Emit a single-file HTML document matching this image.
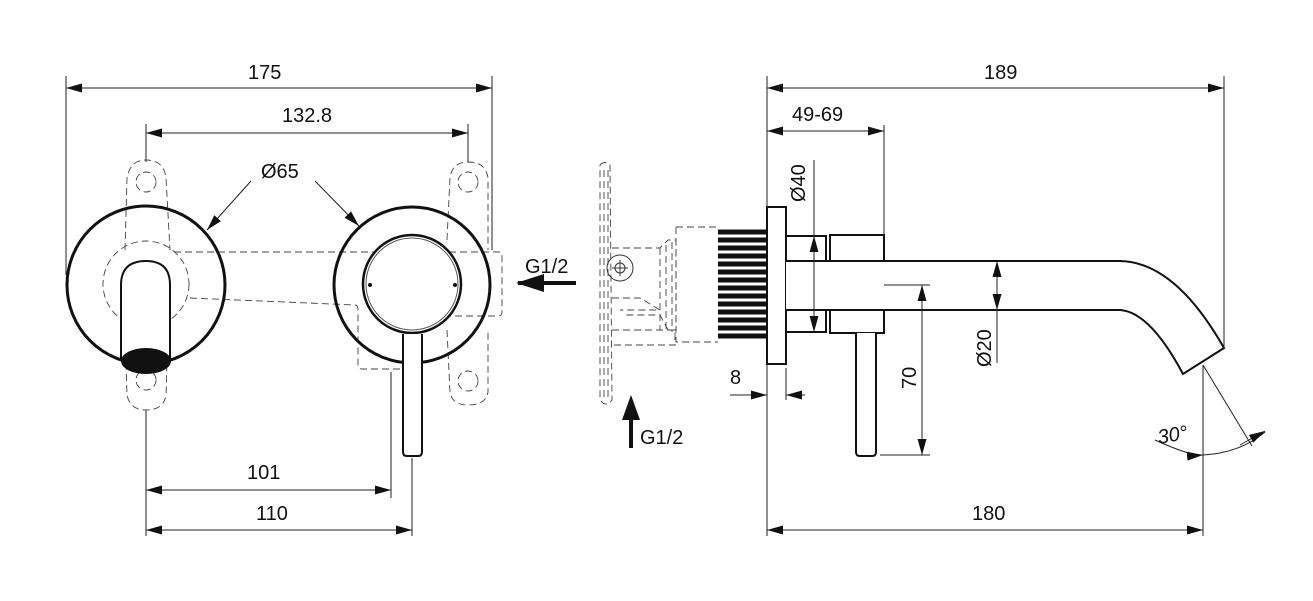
<!DOCTYPE html>
<html><head><meta charset="utf-8"><style>
html,body{margin:0;padding:0;background:#fff;}
svg{display:block;}
text{font-family:"Liberation Sans",sans-serif;font-size:20px;fill:#111;}
</style></head><body>
<svg width="1313" height="601" viewBox="0 0 1313 601" xmlns="http://www.w3.org/2000/svg">
<defs>
<marker id="a" viewBox="0 0 16 9" refX="16" refY="4.5" markerWidth="16" markerHeight="9" markerUnits="userSpaceOnUse" orient="auto-start-reverse"><path d="M0,0L16,4.5L0,9z" fill="#111"/></marker>
</defs>
<g stroke="#222" stroke-width="1" fill="none">
<line x1="66" y1="76" x2="66" y2="275"/>
<line x1="492" y1="76" x2="492" y2="250"/>
<line x1="66" y1="88" x2="492" y2="88" marker-start="url(#a)" marker-end="url(#a)"/>
<line x1="146" y1="124" x2="146" y2="162"/>
<line x1="468" y1="124" x2="468" y2="162"/>
<line x1="146" y1="133" x2="468" y2="133" marker-start="url(#a)" marker-end="url(#a)"/>
<line x1="251" y1="181" x2="207" y2="230" marker-end="url(#a)"/>
<line x1="315" y1="181" x2="359" y2="226" marker-end="url(#a)"/>
<line x1="146" y1="410" x2="146" y2="536"/>
<line x1="391" y1="372" x2="391" y2="498"/>
<line x1="412" y1="458" x2="412" y2="536"/>
<line x1="146" y1="490" x2="391" y2="490" marker-start="url(#a)" marker-end="url(#a)"/>
<line x1="146" y1="530" x2="412" y2="530" marker-start="url(#a)" marker-end="url(#a)"/>
</g>
<g stroke="#444" stroke-width="0.9" fill="none" stroke-dasharray="7,4">
<path d="M125,250 L127,178 Q130,160 146,160 Q164,160 166,178 L170,250"/>
<path d="M125,330 L127,395 Q130,410 146,410 Q164,410 166,395 L168,330"/>
<circle cx="146" cy="182" r="10"/><circle cx="146" cy="380" r="10"/>
<circle cx="146" cy="284" r="43"/>
<path d="M447,240 L450,178 Q452,162 468,162 Q486,162 488,178 L488,250"/>
<path d="M447,330 L450,392 Q452,405 468,405 Q486,405 488,392 L488,330"/>
<circle cx="468" cy="182" r="10"/><circle cx="468" cy="381" r="10"/>
<path d="M174,252 L500,252 Q502,252 502,258 L502,312 Q502,316 498,316 L440,316"/>
<path d="M190,298 L355,305 Q358,305 358,310 L358,365 Q358,369 362,369 L420,369"/>
<circle cx="412" cy="283" r="44"/>
<path d="M600,165 Q605,160 610,165 L612,400 Q606,408 600,400 Z"/>
<path d="M604,170 L604,398 M608,170 L608,398"/>
<path d="M612,248 L660,248 L668,240 L676,240 L676,330 L668,330 L660,315 L625,315"/>
<path d="M612,298 L640,298 L660,310 L620,310"/>
<path d="M612,330 L675,330 L675,345 L612,345"/>
<path d="M676,227 L718,227 M676,227 L676,342 L718,342"/>
<path d="M660,248 L660,330 M666,245 L666,330 M672,242 L672,332"/>
</g>
<circle cx="620" cy="268" r="13" stroke="#333" fill="none"/>
<circle cx="620" cy="268" r="5" stroke="#333" fill="none"/>
<path d="M620,260 V276 M612,268 H628" stroke="#333"/>
<g stroke="#111" stroke-width="3" fill="none">
<circle cx="146" cy="285" r="79"/>
<circle cx="412" cy="285" r="78"/>
</g>
<path d="M121,360 L121,285 Q121,261 146,261 Q170,261 170,285 L170,360" stroke="#111" stroke-width="2" fill="#fff"/>
<ellipse cx="146" cy="361" rx="25" ry="13" fill="#111"/>
<circle cx="412" cy="284" r="49" stroke="#111" stroke-width="2.5" fill="#fff"/>
<circle cx="412" cy="284" r="46" stroke="#555" stroke-width="1" fill="none"/>
<circle cx="370" cy="285" r="2" fill="#111"/><circle cx="455" cy="285" r="2" fill="#111"/>
<path d="M403,334 L403,452 Q403,456 407,456 L418,456 Q422,456 422,452 L422,334" stroke="#111" stroke-width="2" fill="#fff"/>
<line x1="576" y1="283" x2="518" y2="283" stroke="#111" stroke-width="4"/>
<path d="M516,283 L544,274 L544,292z" fill="#111"/>
<text x="525" y="273">G1/2</text>
<line x1="631" y1="448" x2="631" y2="400" stroke="#111" stroke-width="4"/>
<path d="M631,395 L622,420 L640,420z" fill="#111"/>
<text x="640" y="444">G1/2</text>
<g stroke="#111" stroke-width="5">
<path d="M718,232 H766 M718,240 H766 M718,248 H766 M718,256 H766 M718,264 H766 M718,272 H766 M718,280 H766 M718,288 H766 M718,296 H766 M718,304 H766 M718,312 H766 M718,320 H766 M718,328 H766 M718,336 H766"/>
</g>
<g stroke="#111" stroke-width="2" fill="#fff">
<rect x="767" y="207" width="19" height="157"/>
<rect x="786" y="236" width="40" height="96"/>
<rect x="830" y="235" width="54" height="98"/>
<path d="M786,261 L1120,261 Q1175,262 1224,348 L1183,374 Q1150,312 1120,310 L786,310"/>
<path d="M856,333 L856,452 Q856,456 860,456 L872,456 Q876,456 876,452 L876,333"/>
</g>
<g stroke="#222" stroke-width="1" fill="none">
<line x1="767" y1="76" x2="767" y2="207"/>
<line x1="767" y1="364" x2="767" y2="536"/>
<line x1="1224" y1="76" x2="1224" y2="348"/>
<line x1="767" y1="88" x2="1224" y2="88" marker-start="url(#a)" marker-end="url(#a)"/>
<line x1="884" y1="125" x2="884" y2="235"/>
<line x1="767" y1="131" x2="884" y2="131" marker-start="url(#a)" marker-end="url(#a)"/>
<line x1="814" y1="160" x2="814" y2="236"/>
<line x1="814" y1="236" x2="814" y2="332" marker-start="url(#a)" marker-end="url(#a)"/>
<line x1="786" y1="368" x2="786" y2="400"/>
<line x1="730" y1="395" x2="767" y2="395" marker-end="url(#a)"/>
<line x1="805" y1="395" x2="786" y2="395" marker-end="url(#a)"/>
<line x1="884" y1="285" x2="930" y2="285"/>
<line x1="880" y1="455" x2="930" y2="455"/>
<line x1="922" y1="285" x2="922" y2="455" marker-start="url(#a)" marker-end="url(#a)"/>
<line x1="997" y1="261" x2="997" y2="310" marker-start="url(#a)" marker-end="url(#a)"/>
<line x1="997" y1="310" x2="997" y2="363"/>
<line x1="1203" y1="365" x2="1203" y2="536"/>
<line x1="1203" y1="365" x2="1252" y2="446"/>
<path d="M1155,440 Q1190,456 1203,455" marker-end="url(#a)"/>
<path d="M1203,455 Q1240,453 1265,432"/>
<path d="M1240,445 L1265,431" marker-end="url(#a)"/>
<line x1="767" y1="530" x2="1203" y2="530" marker-start="url(#a)" marker-end="url(#a)"/>
</g>
<text x="248" y="79">175</text>
<text x="282" y="122">132.8</text>
<text x="261" y="178">Ø65</text>
<text x="247" y="479">101</text>
<text x="256" y="520">110</text>
<text x="984" y="79">189</text>
<text x="792" y="121">49-69</text>
<text x="730" y="384">8</text>
<text x="972" y="520">180</text>
<text transform="translate(805,202) rotate(-90)">Ø40</text>
<text transform="translate(916,389) rotate(-90)">70</text>
<text transform="translate(991,367) rotate(-90)">Ø20</text>
<text x="1157" y="441" font-style="italic" transform="rotate(-10 1175 432)">30°</text>
</svg>
</body></html>
